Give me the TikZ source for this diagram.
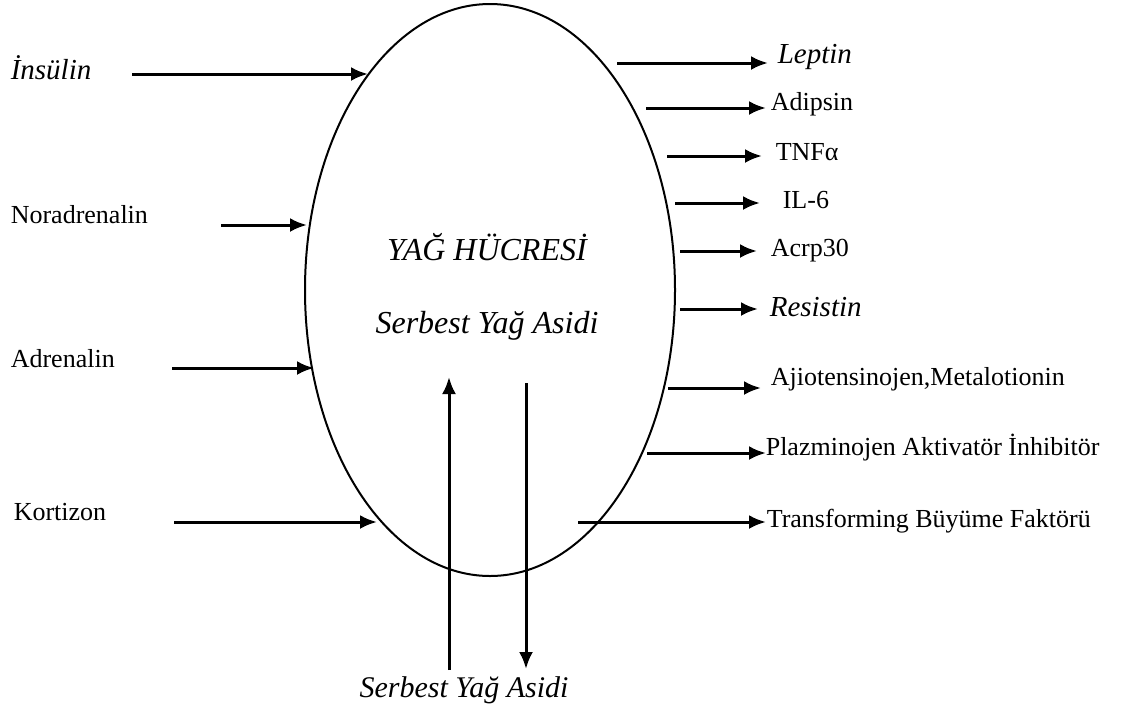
\documentclass[tikz,border=0pt]{standalone}
\usepackage{fontspec}
\setmainfont{Liberation Serif}
\usepackage{tikz}
\usetikzlibrary{shapes.geometric,arrows.meta}

\begin{document}
\begin{tikzpicture}[x=0.5pt,y=-0.5pt,thick]
    % `cell' is the fat cell (ellipse).
    % `label' is used for every text, `flow' for the arrows.
    \tikzstyle{cell} = [draw,ellipse,line width=1pt,minimum width=185pt,minimum height=286pt,inner sep=0pt]
    \tikzstyle{label} = [inner sep=0pt,font=\fontsize{13}{15}\selectfont]
    \tikzstyle{ilabel} = [inner sep=0pt,font=\fontsize{14.5}{17}\selectfont\itshape]
    \tikzstyle{biglabel} = [inner sep=0pt,font=\fontsize{16}{19}\selectfont\itshape]
    \tikzstyle{flow} = [line width=1.5pt,-{Latex[length=8.5pt,width=7pt]}]
    %
    \useasboundingbox (0,0) rectangle (1124,708);
    \node[cell] (cell) at (490,290) {};
    \node[biglabel,anchor=base] (title) at (487,260) {YAĞ HÜCRESİ};
    \node[biglabel,anchor=base] (sya) at (487,333) {Serbest Yağ Asidi};
    \node[ilabel,font=\fontsize{15}{18}\selectfont\itshape,anchor=base] (syaout) at (464,697) {Serbest Yağ Asidi};
    %
    % Inputs (left).
    \node[ilabel,anchor=base west] (ins) at (10,79) {İnsülin};
    \node[label,anchor=base west] (nor) at (10,223) {Noradrenalin};
    \node[label,anchor=base west] (adr) at (10,367) {Adrenalin};
    \node[label,anchor=base west] (kor) at (13,520) {Kortizon};
    \coordinate (ins0) at (132,74);  \coordinate (ins1) at (368,74);
    \coordinate (nor0) at (221,225); \coordinate (nor1) at (307,225);
    \coordinate (adr0) at (172,368); \coordinate (adr1) at (314,368);
    \coordinate (kor0) at (174,522); \coordinate (kor1) at (377,522);
    %
    % Outputs (right).
    \node[ilabel,anchor=base west] (lep) at (777,63) {Leptin};
    \node[label,anchor=base west] (adi) at (770,110) {Adipsin};
    \node[label,anchor=base west] (tnf) at (775,160) {TNFα};
    \node[label,anchor=base west] (il6) at (782,208) {IL-6};
    \node[label,anchor=base west] (acr) at (770,256) {Acrp30};
    \node[ilabel,anchor=base west] (res) at (769,316) {Resistin};
    \node[label,anchor=base west] (ajt) at (770,385) {Ajiotensinojen,Metalotionin};
    \node[label,anchor=base west] (pai) at (765,455) {Plazminojen Aktivatör İnhibitör};
    \node[label,anchor=base west] (tgf) at (766,527) {Transforming Büyüme Faktörü};
    \coordinate (lep0) at (617,63);  \coordinate (lep1) at (768,63);
    \coordinate (adi0) at (646,108); \coordinate (adi1) at (766,108);
    \coordinate (tnf0) at (667,156); \coordinate (tnf1) at (762,156);
    \coordinate (il60) at (675,203); \coordinate (il61) at (760,203);
    \coordinate (acr0) at (680,251); \coordinate (acr1) at (757,251);
    \coordinate (res0) at (680,309); \coordinate (res1) at (758,309);
    \coordinate (ajt0) at (668,388); \coordinate (ajt1) at (761,388);
    \coordinate (pai0) at (647,453); \coordinate (pai1) at (766,453);
    \coordinate (tgf0) at (578,522); \coordinate (tgf1) at (766,522);
    %
    % Free fatty acids in and out.
    \coordinate (up0) at (449,670);   \coordinate (up1) at (449,377);
    \coordinate (down0) at (526,383); \coordinate (down1) at (526,669);
    %
    \draw[flow] (ins0) -- (ins1);
    \draw[flow] (nor0) -- (nor1);
    \draw[flow] (adr0) -- (adr1);
    \draw[flow] (kor0) -- (kor1);
    \draw[flow] (lep0) -- (lep1);
    \draw[flow] (adi0) -- (adi1);
    \draw[flow] (tnf0) -- (tnf1);
    \draw[flow] (il60) -- (il61);
    \draw[flow] (acr0) -- (acr1);
    \draw[flow] (res0) -- (res1);
    \draw[flow] (ajt0) -- (ajt1);
    \draw[flow] (pai0) -- (pai1);
    \draw[flow] (tgf0) -- (tgf1);
    \draw[flow] (up0) -- (up1);
    \draw[flow] (down0) -- (down1);
\end{tikzpicture}
\end{document}
